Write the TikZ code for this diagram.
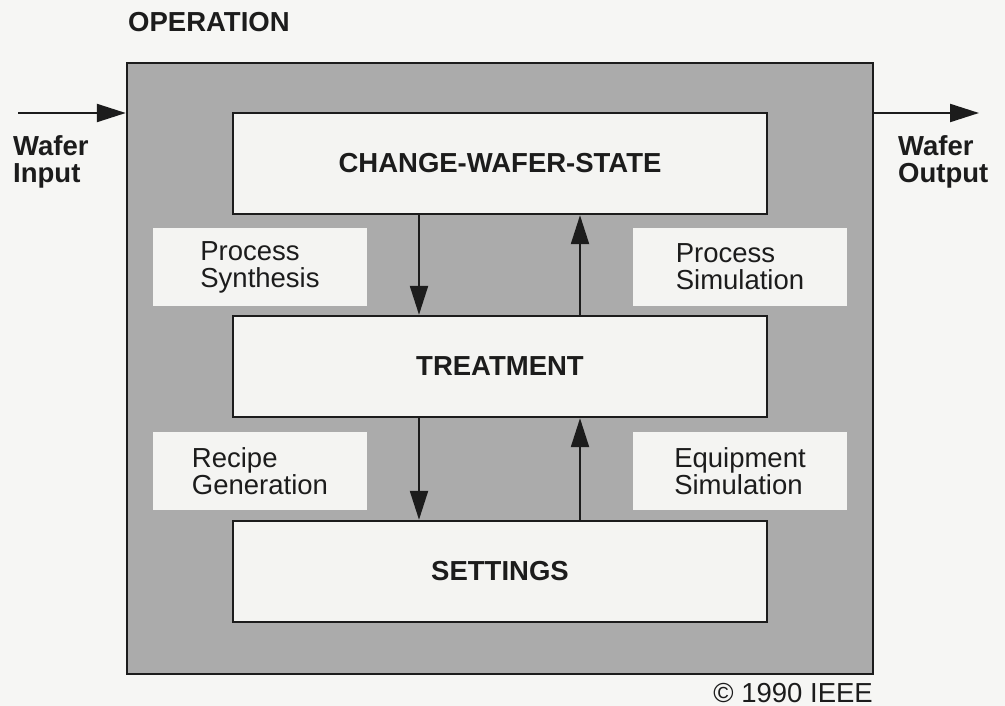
\documentclass[tikz,border=0pt]{standalone}
\usepackage{fontspec}
\setmainfont{Liberation Sans}
\usetikzlibrary{arrows.meta}
\definecolor{bgc}{HTML}{F6F6F4}
\definecolor{boxc}{HTML}{F4F4F2}
\definecolor{shade}{HTML}{ABABAB}
\definecolor{ink}{HTML}{1C1C1C}
\tikzset{
  mainbox/.style={draw=ink, line width=2.4pt, fill=boxc, minimum width=534pt, minimum height=101pt, inner sep=0pt, text=ink, font=\fontsize{27.5}{27}\selectfont\bfseries},
  sidebox/.style={fill=boxc, minimum width=214pt, minimum height=78pt, inner sep=0pt, align=left, text=ink, font=\fontsize{27.5}{27}\selectfont},
  arr/.style={draw=ink, line width=2.2pt, -{Triangle[length=29pt,width=18pt]}},
  lbl/.style={text=ink, inner sep=0pt, align=left, font=\fontsize{27.5}{27}\selectfont\bfseries},
}
\begin{document}
\begin{tikzpicture}[x=1pt,y=-1pt]
\useasboundingbox[fill=bgc] (0,0) rectangle (1005,706);
\node[draw=ink, line width=2.4pt, fill=shade, minimum width=746pt, minimum height=611pt, inner sep=0pt] (outer) at (500,368.5) {};
\node[mainbox] (cws) at (500,163.5) {CHANGE-WAFER-STATE};
\node[mainbox] (treat) at (500,366.5) {TREATMENT};
\node[mainbox] (set) at (500,571.5) {SETTINGS};
\node[sidebox] (psyn) at (260,267) {Process\\Synthesis};
\node[sidebox] (psim) at (740,267) {Process\\Simulation};
\node[sidebox] (rgen) at (260,471) {Recipe\\Generation};
\node[sidebox] (esim) at (740,471) {Equipment\\Simulation};
\draw[arr] ([xshift=-81pt]cws.south) -- ([xshift=-81pt]treat.north);
\draw[arr] ([xshift=80pt]treat.north) -- ([xshift=80pt]cws.south);
\draw[arr] ([xshift=-81pt]treat.south) -- ([xshift=-81pt]set.north);
\draw[arr] ([xshift=80pt]set.north) -- ([xshift=80pt]treat.south);
\coordinate (win) at (18,113);
\coordinate (wout) at (979,113);
\draw[arr] (win) -- (win -| outer.west);
\draw[arr] (wout -| outer.east) -- (wout);
\node[lbl, anchor=base west] (op) at (128,32) {OPERATION};
\node[lbl, anchor=north west] (wi) at (13,135) {Wafer\\Input};
\node[lbl, anchor=north west] (wo) at (898,135) {Wafer\\Output};
\node[text=ink, inner sep=0pt, anchor=base east, font=\fontsize{27.5}{27}\selectfont] (cp) at (873,702) {© 1990 IEEE};
\end{tikzpicture}
\end{document}
